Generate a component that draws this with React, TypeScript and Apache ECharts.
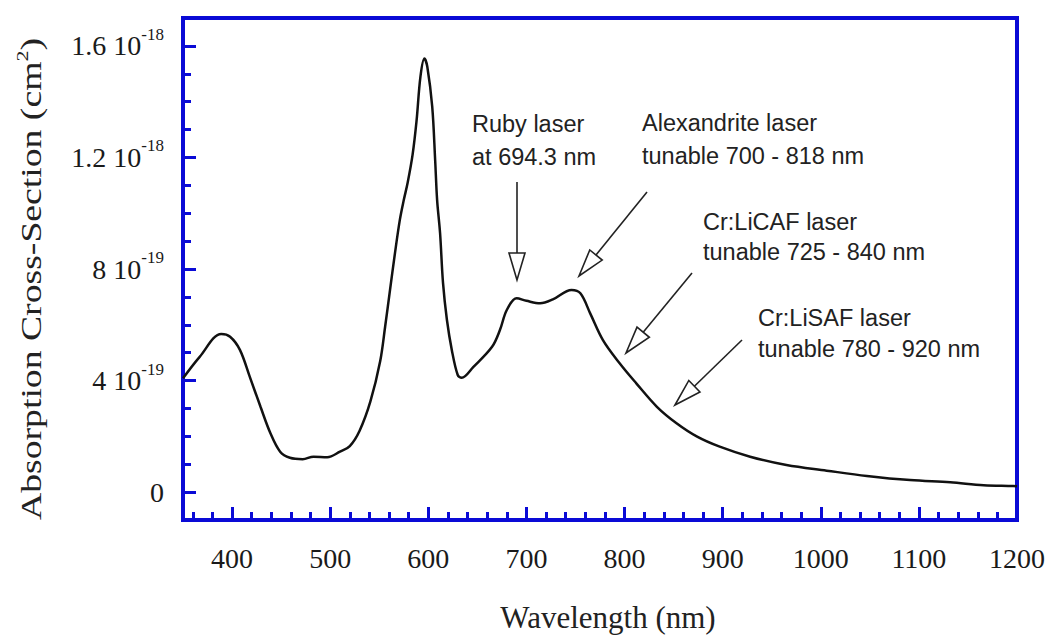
import React, { useEffect, useRef } from 'react';
import * as echarts from 'echarts';

// ---- data (cross-section in units of 1e-19 cm^2) ----
const wavelengthNm = [
  350, 367, 389, 398, 408, 418, 429, 439, 449, 459, 472, 483, 497, 510, 520, 530, 541, 551,
  556, 561, 566, 571, 575, 579, 584, 588, 592, 596, 599, 604, 607, 609, 612, 615, 619, 624,
  630, 634, 646, 665, 673, 680, 690, 700, 714, 727, 746, 755, 765, 778, 795, 812, 833, 853,
  874, 897, 928, 965, 1006, 1047, 1091, 1132, 1166, 1196, 1200,
];
const crossSection = [
  4.08, 4.85, 5.67, 5.57, 5.10, 4.14, 3.06, 2.12, 1.45, 1.23, 1.18, 1.27, 1.25, 1.45, 1.65, 2.2, 3.25, 4.7,
  5.93, 7.25, 8.56, 9.76, 10.47, 11.1, 12.1, 13.3, 14.9, 15.55, 15.25, 13.82, 11.9, 10.47, 9.29, 7.50, 6.17, 5.09,
  4.20, 4.10, 4.49, 5.21, 5.81, 6.53, 6.95, 6.86, 6.77, 6.91, 7.25, 7.13, 6.41, 5.45, 4.62, 3.90, 3.06, 2.47,
  1.99, 1.63, 1.27, 0.97, 0.77, 0.58, 0.43, 0.35, 0.25, 0.22, 0.21,
];

const xMajorTicks = [400, 500, 600, 700, 800, 900, 1000, 1100, 1200];
const yMajorTicks = [0, 4, 8, 12, 16];
const yTickMantissa = ['0', '4', '8', '1.2', '1.6'];
const yTickExponent = ['', '-19', '-19', '-18', '-18'];

const annotations = [
  { lines: ['Ruby laser', 'at 694.3 nm'], x: 472, y: [124, 157] },
  { lines: ['Alexandrite laser', 'tunable 700 - 818 nm'], x: 642, y: [123, 156] },
  { lines: ['Cr:LiCAF laser', 'tunable 725 - 840 nm'], x: 703, y: [222, 252] },
  { lines: ['Cr:LiSAF laser', 'tunable 780 - 920 nm'], x: 758, y: [318, 349] },
];
const arrows = [
  [517, 182, 517, 280],
  [647, 192, 579, 276],
  [692, 273, 626, 353],
  [742, 340, 675, 405],
];

const BLUE = '#0a0ad6';
const X_MIN = 350, X_MAX = 1200, Y_MIN = -1, Y_MAX = 17;

const xMinorTicks: number[] = [];
for (let v = 360; v < X_MAX; v += 20) if (v % 100 !== 0) xMinorTicks.push(v);
const yMinorTicks: number[] = [];
for (let v = 1; v < Y_MAX; v += 1) if (v % 4 !== 0) yMinorTicks.push(v);

function arrowGraphic(x1: number, y1: number, x2: number, y2: number) {
  const dx = x2 - x1, dy = y2 - y1;
  const L = Math.hypot(dx, dy);
  const ux = dx / L, uy = dy / L;
  const hl = 27, hw = 8;
  const bx = x2 - ux * hl, by = y2 - uy * hl;
  const px = -uy, py = ux;
  return [
    { type: 'line', z: 100, silent: true, shape: { x1, y1, x2: bx, y2: by }, style: { stroke: '#222', lineWidth: 1.6 } },
    {
      type: 'polygon', z: 100, silent: true,
      shape: { points: [[x2, y2], [bx + px * hw, by + py * hw], [bx - px * hw, by - py * hw]] },
      style: { fill: '#fff', stroke: '#222', lineWidth: 1.6 },
    },
  ];
}

function buildOption() {
  const data = wavelengthNm.map((w, i) => [w, crossSection[i]]);
  const graphics: any[] = [];
  annotations.forEach((a) => {
    a.lines.forEach((t, i) => {
      graphics.push({
        type: 'text', z: 100, silent: true, x: a.x, y: a.y[i],
        style: {
          text: t, fill: '#222', fontSize: 23.5, fontFamily: '"Liberation Sans", Arial, sans-serif',
          align: 'left', verticalAlign: 'middle', textAlign: 'left', textVerticalAlign: 'middle',
        },
      });
    });
  });
  arrows.forEach((a) => graphics.push(...arrowGraphic(a[0], a[1], a[2], a[3])));
  graphics.push({
    type: 'text', z: 100, silent: true, x: 31, y: 279, rotation: Math.PI / 2, scaleX: 1.3,
    style: {
      text: 'Absorption Cross-Section (cm{s|2})', fill: '#222', fontSize: 29,
      fontFamily: '"Liberation Serif", "Times New Roman", serif',
      align: 'center', verticalAlign: 'middle', textAlign: 'center', textVerticalAlign: 'middle',
      lineHeight: 36,
      rich: { s: { fontSize: 17, fontFamily: '"Liberation Serif", serif', fill: '#222', verticalAlign: 'top', lineHeight: 18 } },
    },
  });
  graphics.push({
    type: 'text', z: 100, silent: true, x: 608, y: 617,
    style: {
      text: 'Wavelength (nm)', fill: '#222', fontSize: 31,
      fontFamily: '"Liberation Serif", "Times New Roman", serif',
      align: 'center', verticalAlign: 'middle', textAlign: 'center', textVerticalAlign: 'middle',
    },
  });

  const serif = '"Liberation Serif", "Times New Roman", serif';
  return {
    animation: false,
    backgroundColor: '#fff',
    grid: { left: 183, right: 31, top: 18, bottom: 117, show: true, borderColor: BLUE, borderWidth: 4, backgroundColor: 'transparent' },
    xAxis: [
      {
        type: 'value', min: X_MIN, max: X_MAX, position: 'bottom',
        axisLine: { show: true, onZero: false, lineStyle: { color: BLUE, width: 4 } },
        axisTick: { show: true, inside: true, length: 13, customValues: xMajorTicks, lineStyle: { color: BLUE, width: 3 } },
        axisLabel: {
          show: true, customValues: xMajorTicks, margin: 24, fontSize: 28, color: '#1a1a1a', fontFamily: serif,
          formatter: (v: number) => String(Math.round(v)),
        },
        splitLine: { show: false },
      },
      {
        type: 'value', min: X_MIN, max: X_MAX, position: 'bottom',
        axisLine: { show: false, onZero: false },
        axisTick: { show: true, inside: true, length: 8, customValues: xMinorTicks, lineStyle: { color: BLUE, width: 3 } },
        axisLabel: { show: false },
        splitLine: { show: false },
      },
    ],
    yAxis: [
      {
        type: 'value', min: Y_MIN, max: Y_MAX, position: 'left',
        axisLine: { show: true, onZero: false, lineStyle: { color: BLUE, width: 4 } },
        axisTick: { show: true, inside: true, length: 13, customValues: yMajorTicks, lineStyle: { color: BLUE, width: 3 } },
        axisLabel: {
          show: true, customValues: yMajorTicks, margin: 19,
          formatter: (v: number) => {
            const i = yMajorTicks.indexOf(Math.round(v));
            if (i < 0) return '';
            if (!yTickExponent[i]) return `{m|${yTickMantissa[i]}}`;
            return `{m|${yTickMantissa[i]} 10}{s|${yTickExponent[i]}}`;
          },
          rich: {
            m: { fontSize: 28, color: '#1a1a1a', fontFamily: serif, lineHeight: 40 },
            s: { fontSize: 17, color: '#1a1a1a', fontFamily: serif, verticalAlign: 'top', lineHeight: 17 },
          },
        },
        splitLine: { show: false },
      },
      {
        type: 'value', min: Y_MIN, max: Y_MAX, position: 'left',
        axisLine: { show: false, onZero: false },
        axisTick: { show: true, inside: true, length: 8, customValues: yMinorTicks, lineStyle: { color: BLUE, width: 3 } },
        axisLabel: { show: false },
        splitLine: { show: false },
      },
    ],
    series: [
      {
        type: 'line', xAxisIndex: 0, yAxisIndex: 0, data, showSymbol: false, smooth: 0.35,
        lineStyle: { color: '#111', width: 2.5 }, z: 5,
      },
    ],
    graphic: { elements: graphics },
  };
}

export default function App() {
  const ref = useRef<HTMLDivElement>(null);
  useEffect(() => {
    const chart = echarts.init(ref.current as HTMLDivElement, null, { renderer: 'svg' });
    chart.setOption(buildOption() as any);
    return () => chart.dispose();
  }, []);
  return (
    <div
      ref={ref}
      style={{ position: 'absolute', left: 0, top: 0, width: 1048, height: 637, background: '#fff' }}
    />
  );
}
